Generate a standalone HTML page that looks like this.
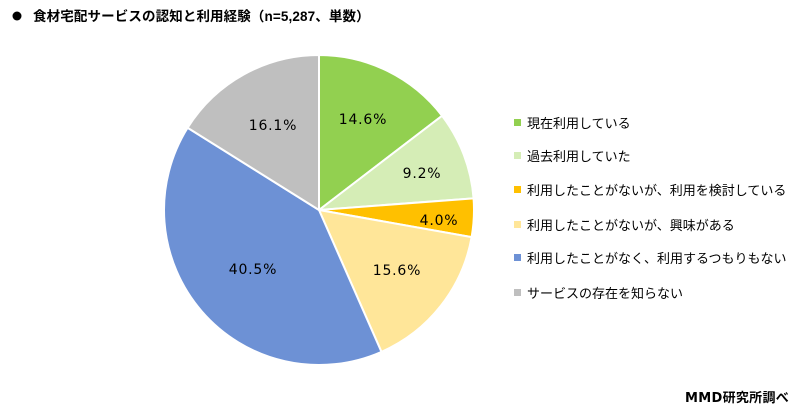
<!DOCTYPE html>
<html><head><meta charset="utf-8">
<style>
html,body{margin:0;padding:0;background:#fff;}
body{width:800px;height:413px;overflow:hidden;position:relative;font-family:"Liberation Sans","Noto Sans CJK JP",sans-serif;}
svg{position:absolute;left:0;top:0;}
</style></head><body>
<svg width="800" height="413" viewBox="0 0 800 413" xmlns="http://www.w3.org/2000/svg">
<circle cx="17" cy="16" r="4.5" fill="#000"/>
<text x="33" y="21" font-family="Liberation Sans,Noto Sans CJK JP,sans-serif" font-size="13.5" font-weight="bold" letter-spacing="0.12" fill="#000">食材宅配サービスの認知と利用経験（n=5,287、単数）</text>
<g stroke="#fff" stroke-width="2" stroke-linejoin="round">
<path d="M319,210 L319,55 A155,155 0 0 1 442.07,115.78 Z" fill="#92d050"/>
<path d="M319,210 L442.07,115.78 A155,155 0 0 1 473.56,198.32 Z" fill="#d5edb6"/>
<path d="M319,210 L473.56,198.32 A155,155 0 0 1 471.61,237.13 Z" fill="#ffc000"/>
<path d="M319,210 L471.61,237.13 A155,155 0 0 1 381.45,351.86 Z" fill="#ffe699"/>
<path d="M319,210 L381.45,351.86 A155,155 0 0 1 187.63,127.74 Z" fill="#6d91d5"/>
<path d="M319,210 L187.63,127.74 A155,155 0 0 1 319,55 Z" fill="#bfbfbf"/>
</g>
<g font-family="DejaVu Sans,Liberation Sans,sans-serif" font-size="14" letter-spacing="0.8" fill="#000" text-anchor="middle">
<text x="363" y="124">14.6%</text>
<text x="422" y="178">9.2%</text>
<text x="439" y="225">4.0%</text>
<text x="397" y="275">15.6%</text>
<text x="253" y="274">40.5%</text>
<text x="273" y="130">16.1%</text>
</g>
<g>
<rect x="514" y="119" width="7" height="7" fill="#92d050"/>
<rect x="514" y="152" width="7" height="7" fill="#d5edb6"/>
<rect x="514" y="186" width="7" height="7" fill="#ffc000"/>
<rect x="514" y="221" width="7" height="7" fill="#ffe699"/>
<rect x="514" y="254" width="7" height="7" fill="#6d91d5"/>
<rect x="514" y="289" width="7" height="7" fill="#bfbfbf"/>
</g>
<g font-family="Liberation Sans,Noto Sans CJK JP,sans-serif" font-size="13" fill="#000">
<text x="527" y="128">現在利用している</text>
<text x="527" y="161">過去利用していた</text>
<text x="527" y="195">利用したことがないが、利用を検討している</text>
<text x="527" y="230">利用したことがないが、興味がある</text>
<text x="527" y="263">利用したことがなく、利用するつもりもない</text>
<text x="527" y="298">サービスの存在を知らない</text>
</g>
<text x="685" y="402" font-family="DejaVu Sans,Noto Sans CJK JP,sans-serif" font-size="13" font-weight="bold" letter-spacing="0.3" fill="#000">MMD研究所調べ</text>
</svg>
</body></html>
